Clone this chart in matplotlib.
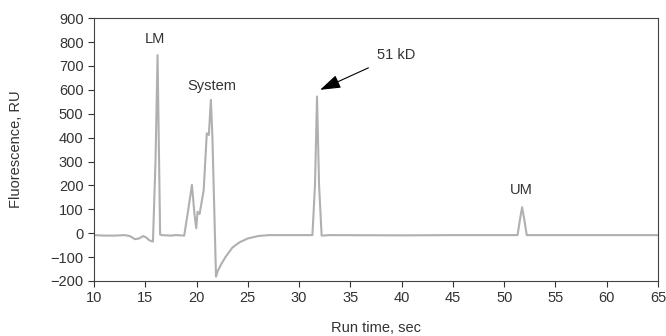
import matplotlib
matplotlib.use("Agg")
import matplotlib.pyplot as plt

plt.rcParams["font.family"] = ["Liberation Sans", "DejaVu Sans"]

# electropherogram trace
run_time = [10, 11, 12, 13, 13.5, 14, 14.4, 14.8, 15.1, 15.4, 15.75, 16.0, 16.2, 16.45,
            16.6, 17.5, 18.0, 18.8, 19.2, 19.55, 19.8, 19.97, 20.1, 20.3, 20.7, 21.0,
            21.2, 21.4, 21.55, 21.9, 22.05, 22.4, 22.85, 23.5, 24.2, 25, 26, 27, 30,
            31.3, 31.55, 31.75, 31.95, 32.2, 33, 40, 45, 50, 51.3, 51.55, 51.75, 51.95,
            52.2, 53, 60, 65]
fluor = [-8, -10, -10, -8, -12, -25, -22, -12, -18, -30, -35, 300, 745, -5,
         -8, -10, -8, -10, 100, 202, 80, 21, 90, 80, 181, 418,
         411, 558, 400, -182, -160, -130, -98, -60, -38, -22, -12, -8, -8,
         -8, 200, 572, 200, -10, -8, -9, -8, -8, -8, 60, 109, 60,
         -8, -8, -8, -8]

peak_names = ["LM", "System", "UM"]
peak_pos = [(15.95, 813), (21.45, 616), (51.65, 181)]

txt = "#333333"
fig = plt.figure(figsize=(6.66, 3.36), dpi=100)
ax = fig.add_axes([0.1411, 0.1637, 0.8469, 0.7823])
ax.plot(run_time, fluor, color="#b0b0b0", lw=1.5)

for name, (x, y) in zip(peak_names, peak_pos):
    ax.text(x, y, name, ha="center", va="center", fontsize=10.5, color=txt)

ax.annotate("51 kD", xy=(32.05, 600), xytext=(37.6, 745), fontsize=10.5, color=txt,
            va="center", ha="left",
            arrowprops=dict(arrowstyle="-|>,head_length=1.2,head_width=0.4",
                            color="black", lw=0.8, shrinkA=5, shrinkB=0))

ax.set_xlim(10, 65)
ax.set_ylim(-200, 900)
ax.set_xticks(range(10, 66, 5))
ax.set_yticks(range(-200, 901, 100))
ax.set_yticklabels([str(v).replace("-", "\u2212") for v in range(-200, 901, 100)])
ax.tick_params(labelsize=10.5, colors=txt, length=4, width=0.8)
for s in ax.spines.values():
    s.set_color("#444444")
    s.set_linewidth(0.8)
ax.set_xlabel("Run time, sec", fontsize=10.5, color=txt, labelpad=11)
ax.set_ylabel("Fluorescence, RU", fontsize=10.5, color=txt, labelpad=20)

fig.savefig("out.png", dpi=100)
